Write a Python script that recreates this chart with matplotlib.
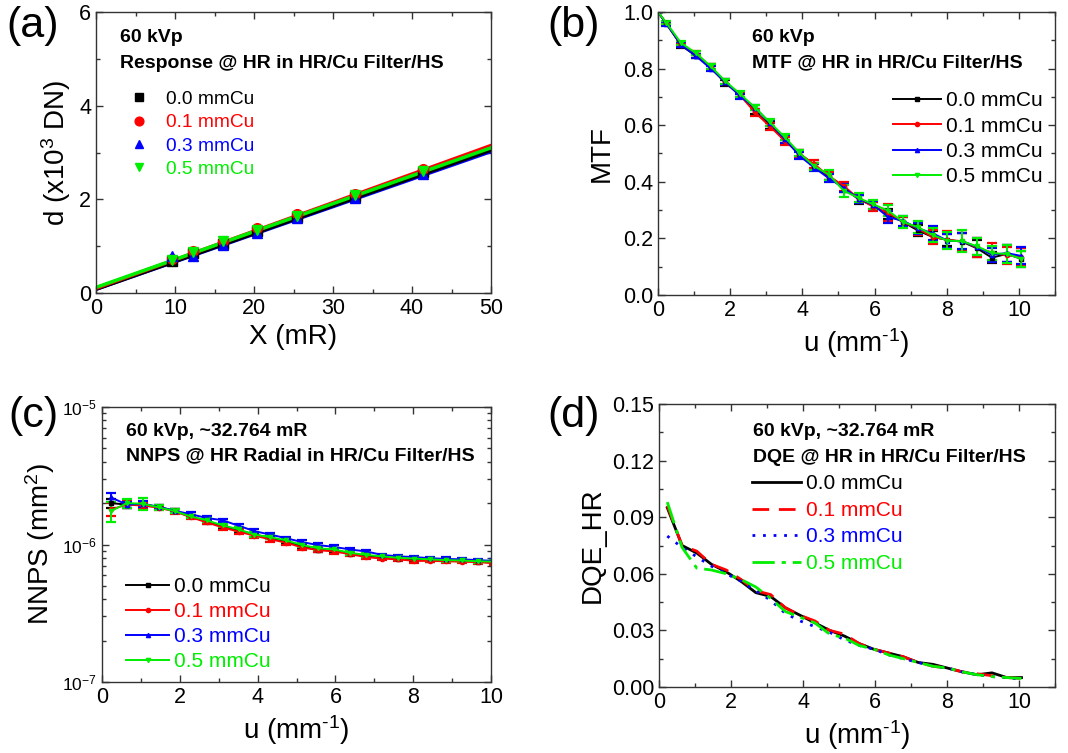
import numpy as np
import matplotlib
matplotlib.use('Agg')
from matplotlib import pyplot as plt
from matplotlib.ticker import MultipleLocator, LogLocator, NullFormatter, FormatStrFormatter

plt.rcParams['font.family'] = ['Liberation Sans', 'DejaVu Sans']
plt.rcParams['mathtext.fontset'] = 'custom'
plt.rcParams['mathtext.rm'] = 'Liberation Sans'
plt.rcParams['mathtext.it'] = 'Liberation Sans'

W, H = 1068, 753

labels = ['0.0 mmCu', '0.1 mmCu', '0.3 mmCu', '0.5 mmCu']
colors = ['black', '#ff0000', '#0000ff', '#00ee00']
markers = ['s', 'o', '^', 'v']

# (a) response
X_mR = [9.6, 12.3, 16.1, 20.4, 25.4, 32.8, 41.4]
d_00 = [0.68, 0.85, 1.05, 1.32, 1.62, 2.05, 2.58]
d_01 = [0.72, 0.90, 1.12, 1.38, 1.68, 2.12, 2.65]
d_03 = [0.78, 0.80, 1.02, 1.28, 1.60, 2.02, 2.55]
d_05 = [0.70, 0.88, 1.10, 1.35, 1.65, 2.10, 2.60]
fit_x = [0, 50]
fit_00 = [0.08, 3.05]
fit_01 = [0.10, 3.15]
fit_03 = [0.08, 3.02]
fit_05 = [0.12, 3.10]

# (b) MTF
u_mtf = [0, 0.23, 0.64, 1.05, 1.46, 1.87, 2.28, 2.69, 3.10, 3.51, 3.92, 4.33, 4.74,
         5.15, 5.56, 5.97, 6.38, 6.79, 7.20, 7.61, 8.02, 8.43, 8.84, 9.25, 9.66, 10.07]
mtf_00 = [1.0, 0.960, 0.882, 0.845, 0.805, 0.748, 0.708, 0.648, 0.600, 0.548, 0.500, 0.455, 0.418,
          0.378, 0.338, 0.315, 0.285, 0.258, 0.228, 0.205, 0.195, 0.188, 0.165, 0.132, 0.145, 0.128]
mtf_01 = [1.0, 0.960, 0.884, 0.855, 0.805, 0.752, 0.705, 0.645, 0.596, 0.545, 0.500, 0.462, 0.420,
          0.385, 0.340, 0.312, 0.290, 0.258, 0.235, 0.205, 0.195, 0.190, 0.168, 0.150, 0.140, 0.135]
mtf_03 = [1.0, 0.958, 0.885, 0.845, 0.800, 0.752, 0.702, 0.662, 0.608, 0.552, 0.492, 0.450, 0.412,
          0.378, 0.340, 0.318, 0.275, 0.262, 0.236, 0.218, 0.192, 0.190, 0.170, 0.142, 0.148, 0.138]
mtf_05 = [1.0, 0.962, 0.890, 0.855, 0.808, 0.755, 0.710, 0.662, 0.610, 0.558, 0.502, 0.455, 0.425,
          0.368, 0.343, 0.320, 0.298, 0.258, 0.240, 0.212, 0.192, 0.190, 0.172, 0.148, 0.145, 0.128]
mtf_err_00 = [0, 0.006, 0.008, 0.008, 0.010, 0.010, 0.010, 0.010, 0.012, 0.012, 0.012, 0.012, 0.012,
              0.014, 0.015, 0.015, 0.018, 0.018, 0.020, 0.022, 0.022, 0.030, 0.030, 0.020, 0.030, 0.028]
mtf_err_01 = [0, 0.006, 0.008, 0.008, 0.010, 0.010, 0.010, 0.012, 0.012, 0.014, 0.012, 0.014, 0.014,
              0.016, 0.015, 0.016, 0.030, 0.018, 0.022, 0.025, 0.030, 0.030, 0.032, 0.035, 0.030, 0.030]
mtf_err_03 = [0, 0.006, 0.008, 0.008, 0.010, 0.010, 0.010, 0.010, 0.012, 0.014, 0.012, 0.012, 0.014,
              0.014, 0.015, 0.015, 0.022, 0.018, 0.020, 0.025, 0.025, 0.028, 0.030, 0.025, 0.030, 0.030]
mtf_err_05 = [0, 0.006, 0.008, 0.008, 0.010, 0.010, 0.010, 0.010, 0.012, 0.012, 0.012, 0.012, 0.018,
              0.020, 0.016, 0.015, 0.020, 0.020, 0.022, 0.025, 0.030, 0.038, 0.030, 0.025, 0.032, 0.028]

# (c) NNPS, units of 1e-6 mm^2
u_nps = [0.23, 0.64, 1.05, 1.46, 1.87, 2.28, 2.69, 3.10, 3.51, 3.92, 4.33, 4.74,
         5.15, 5.56, 5.97, 6.38, 6.79, 7.20, 7.61, 8.02, 8.43, 8.84, 9.25, 9.66, 10.07]
nps_00 = [2.00, 1.95, 1.95, 1.88, 1.75, 1.60, 1.47, 1.36, 1.27, 1.18, 1.12, 1.05,
          0.97, 0.91, 0.91, 0.86, 0.82, 0.80, 0.79, 0.775, 0.77, 0.765, 0.76, 0.75, 0.74]
nps_01 = [1.80, 1.95, 1.92, 1.85, 1.74, 1.58, 1.45, 1.33, 1.24, 1.16, 1.09, 1.03,
          0.95, 0.91, 0.89, 0.85, 0.81, 0.79, 0.78, 0.76, 0.76, 0.755, 0.75, 0.745, 0.73]
nps_03 = [2.20, 1.95, 1.98, 1.88, 1.76, 1.66, 1.56, 1.50, 1.37, 1.25, 1.18, 1.11,
          1.04, 0.99, 0.96, 0.92, 0.89, 0.84, 0.82, 0.81, 0.795, 0.785, 0.78, 0.77, 0.76]
nps_05 = [1.75, 2.00, 1.98, 1.86, 1.75, 1.60, 1.50, 1.38, 1.29, 1.18, 1.13, 1.07,
          0.99, 0.94, 0.92, 0.87, 0.84, 0.82, 0.80, 0.79, 0.78, 0.77, 0.765, 0.755, 0.75]
nps_err_00 = [0.15, 0.10, 0.08, 0.07, 0.05, 0.05, 0.05, 0.04, 0.04, 0.04, 0.03, 0.03,
              0.03, 0.03, 0.025, 0.025, 0.025, 0.02, 0.02, 0.02, 0.02, 0.02, 0.02, 0.02, 0.02]
nps_err_01 = [0.20, 0.12, 0.10, 0.07, 0.06, 0.05, 0.05, 0.05, 0.05, 0.04, 0.04, 0.04,
              0.04, 0.03, 0.03, 0.03, 0.03, 0.025, 0.025, 0.025, 0.02, 0.02, 0.02, 0.02, 0.02]
nps_err_03 = [0.15, 0.10, 0.10, 0.07, 0.05, 0.06, 0.05, 0.04, 0.04, 0.04, 0.04, 0.03,
              0.03, 0.03, 0.025, 0.025, 0.025, 0.02, 0.02, 0.02, 0.02, 0.02, 0.02, 0.02, 0.02]
nps_err_05 = [0.30, 0.15, 0.20, 0.07, 0.05, 0.05, 0.05, 0.04, 0.04, 0.05, 0.04, 0.03,
              0.03, 0.03, 0.025, 0.025, 0.025, 0.02, 0.02, 0.025, 0.02, 0.02, 0.02, 0.02, 0.02]

# (d) DQE
u_dqe = [0.23, 0.64, 1.05, 1.46, 1.87, 2.28, 2.69, 3.10, 3.51, 3.92, 4.33, 4.74,
         5.15, 5.56, 5.97, 6.38, 6.79, 7.20, 7.61, 8.02, 8.43, 8.84, 9.25, 9.66, 10.07]
dqe_00 = [0.095, 0.075, 0.071, 0.065, 0.061, 0.056, 0.050, 0.048, 0.042, 0.038, 0.034, 0.030,
          0.027, 0.023, 0.020, 0.018, 0.016, 0.013, 0.012, 0.010, 0.008, 0.0065, 0.0075, 0.005, 0.005]
dqe_01 = [0.096, 0.075, 0.072, 0.065, 0.062, 0.057, 0.051, 0.049, 0.042, 0.038, 0.035, 0.030,
          0.028, 0.023, 0.020, 0.018, 0.016, 0.013, 0.011, 0.010, 0.008, 0.007, 0.006, 0.005, 0.0045]
dqe_03 = [0.080, 0.074, 0.069, 0.064, 0.060, 0.056, 0.051, 0.046, 0.039, 0.035, 0.032, 0.029,
          0.025, 0.022, 0.020, 0.017, 0.015, 0.013, 0.011, 0.010, 0.008, 0.0065, 0.0055, 0.005, 0.004]
dqe_05 = [0.098, 0.074, 0.063, 0.062, 0.060, 0.057, 0.053, 0.047, 0.040, 0.037, 0.034, 0.028,
          0.026, 0.022, 0.020, 0.017, 0.015, 0.013, 0.011, 0.010, 0.008, 0.0065, 0.0055, 0.005, 0.0045]

U_LABEL = r'u (mm$^{\text{-1}}$)'
TICK_FS = 15.5
LAB_FS = 20
ANN_FS = 14
LEG_FS = 15


def px_axes(l, t, r, b):
    return fig.add_axes([l / W, 1 - b / H, (r - l) / W, (b - t) / H])


def style(ax, size=TICK_FS):
    for s in ax.spines.values():
        s.set_color('#333333')
        s.set_linewidth(1.0)
    ax.tick_params(which='both', direction='in', top=True, right=True,
                   colors='#333333', labelcolor='black', labelsize=size)
    ax.tick_params(which='major', length=5, width=1)
    ax.tick_params(which='minor', length=3, width=1)


def ftext(x, y, s, **kw):
    fig.text(x / W, 1 - y / H, s, va='center', ha='left', **kw)


fig = plt.figure(figsize=(W / 100, H / 100), dpi=100)

# ---- (a)
ax = px_axes(96, 12, 491, 293)
d_all = [d_00, d_01, d_03, d_05]
fits = [fit_00, fit_01, fit_03, fit_05]
for i in [2, 0, 1, 3]:
    ax.plot(fit_x, fits[i], color=colors[i], lw=2.5, zorder=2)
for i in range(4):
    ax.plot(X_mR, d_all[i], ls='none', marker=markers[i], color=colors[i], ms=7,
            label=labels[i], zorder=3)
ax.set_xlim(0, 50)
ax.set_ylim(0, 6)
ax.xaxis.set_major_locator(MultipleLocator(10))
ax.xaxis.set_minor_locator(MultipleLocator(5))
ax.yaxis.set_major_locator(MultipleLocator(2))
ax.yaxis.set_minor_locator(MultipleLocator(1))
style(ax)
ax.set_xlabel('X (mR)', fontsize=LAB_FS, labelpad=4)
ax.set_ylabel('d (x10$^3$ DN)', fontsize=LAB_FS, labelpad=4)
ax.legend(loc='upper left', bbox_to_anchor=(120 / W, 1 - 81 / H), bbox_transform=fig.transFigure,
          frameon=False, fontsize=13.8, labelcolor='markerfacecolor', handletextpad=0.9,
          labelspacing=0.31, borderpad=0, handlelength=1.0, markerscale=0.9)
ftext(120, 37, '60 kVp', fontsize=ANN_FS, fontweight='bold')
ftext(120, 63, 'Response @ HR in HR/Cu Filter/HS', fontsize=ANN_FS, fontweight='bold')

# ---- (b)
ax = px_axes(658, 12, 1055, 295)
mtf_all = [mtf_00, mtf_01, mtf_03, mtf_05]
mtf_errs = [mtf_err_00, mtf_err_01, mtf_err_03, mtf_err_05]
for i in range(4):
    ax.errorbar(u_mtf, mtf_all[i], yerr=mtf_errs[i], color=colors[i], marker=markers[i], ms=3,
                lw=1.4, capsize=3.6, capthick=1.6, elinewidth=1.4, label=labels[i])
ax.set_xlim(0, 11)
ax.set_ylim(0, 1.0)
ax.xaxis.set_major_locator(MultipleLocator(2))
ax.xaxis.set_minor_locator(MultipleLocator(1))
ax.yaxis.set_major_locator(MultipleLocator(0.2))
ax.yaxis.set_minor_locator(MultipleLocator(0.1))
ax.yaxis.set_major_formatter(FormatStrFormatter('%.1f'))
style(ax)
ax.set_xlabel(U_LABEL, fontsize=LAB_FS, labelpad=4)
ax.set_ylabel('MTF', fontsize=LAB_FS, labelpad=6)
h, l = ax.get_legend_handles_labels()
h = [x[0] for x in h]
ax.legend(h, l, loc='upper left', bbox_to_anchor=(883 / W, 1 - 81 / H), bbox_transform=fig.transFigure,
          frameon=False, fontsize=LEG_FS, handletextpad=0.2, labelspacing=0.3, borderpad=0,
          handlelength=2.3)
ftext(752, 37, '60 kVp', fontsize=ANN_FS, fontweight='bold')
ftext(752, 63, 'MTF @ HR in HR/Cu Filter/HS', fontsize=ANN_FS, fontweight='bold')

# ---- (c)
ax = px_axes(102, 407, 491, 682)
nps_all = [nps_00, nps_01, nps_03, nps_05]
nps_errs = [nps_err_00, nps_err_01, nps_err_03, nps_err_05]
for i in range(4):
    ax.errorbar(u_nps, np.array(nps_all[i]) * 1e-6, yerr=np.array(nps_errs[i]) * 1e-6,
                color=colors[i], marker=markers[i], ms=3, lw=1.4, capsize=3.6, capthick=1.6,
                elinewidth=1.4, label=labels[i])
ax.set_yscale('log')
ax.set_xlim(0, 10)
ax.set_ylim(1e-7, 1e-5)
ax.xaxis.set_major_locator(MultipleLocator(2))
ax.xaxis.set_minor_locator(MultipleLocator(1))
ax.yaxis.set_minor_locator(LogLocator(base=10, subs=np.arange(2, 10)))
ax.yaxis.set_minor_formatter(NullFormatter())
style(ax)
ax.tick_params(axis='y', labelsize=12.5)
ax.set_xlabel(U_LABEL, fontsize=LAB_FS, labelpad=4)
ax.set_ylabel('NNPS (mm$^2$)', fontsize=LAB_FS, labelpad=4)
h, l = ax.get_legend_handles_labels()
h = [x[0] for x in h]
ax.legend(h, l, loc='upper left', bbox_to_anchor=(116 / W, 1 - 567 / H), bbox_transform=fig.transFigure,
          frameon=False, fontsize=LEG_FS, labelcolor='linecolor', handletextpad=0.25, labelspacing=0.28,
          borderpad=0, handlelength=2.05)
ftext(126, 431, '60 kVp, ~32.764 mR', fontsize=ANN_FS, fontweight='bold')
ftext(126, 456, 'NNPS @ HR Radial in HR/Cu Filter/HS', fontsize=ANN_FS, fontweight='bold')

# ---- (d)
ax = px_axes(659, 404, 1055, 687)
dqe_all = [dqe_00, dqe_01, dqe_03, dqe_05]
dqe_styles = ['-', (0, (6, 3.5)), (0, (1, 2.8)), (0, (8, 2.5, 1.5, 2.5))]
for i in range(4):
    ax.plot(u_dqe, dqe_all[i], color=colors[i], ls=dqe_styles[i], lw=2.0, label=labels[i])
ax.set_xlim(0, 11)
ax.set_ylim(0, 0.15)
ax.xaxis.set_major_locator(MultipleLocator(2))
ax.xaxis.set_minor_locator(MultipleLocator(1))
ax.yaxis.set_major_locator(MultipleLocator(0.03))
ax.yaxis.set_minor_locator(MultipleLocator(0.015))
ax.yaxis.set_major_formatter(FormatStrFormatter('%.2f'))
style(ax)
ax.set_xlabel(U_LABEL, fontsize=LAB_FS, labelpad=4)
ax.set_ylabel('DQE_HR', fontsize=LAB_FS, labelpad=4)
ax.legend(loc='upper left', bbox_to_anchor=(742 / W, 1 - 464 / H), bbox_transform=fig.transFigure,
          frameon=False, fontsize=LEG_FS, labelcolor='linecolor', handletextpad=0.2, labelspacing=0.36,
          borderpad=0, handlelength=2.35)
ftext(753, 431, '60 kVp, ~32.764 mR', fontsize=ANN_FS, fontweight='bold')
ftext(753, 458, 'DQE @ HR in HR/Cu Filter/HS', fontsize=ANN_FS, fontweight='bold')

# panel letters
for x, y, s in [(6, 26, '(a)'), (547, 26, '(b)'), (8, 416, '(c)'), (547, 416, '(d)')]:
    ftext(x, y, s, fontsize=31)

fig.savefig('out.png', dpi=100)
